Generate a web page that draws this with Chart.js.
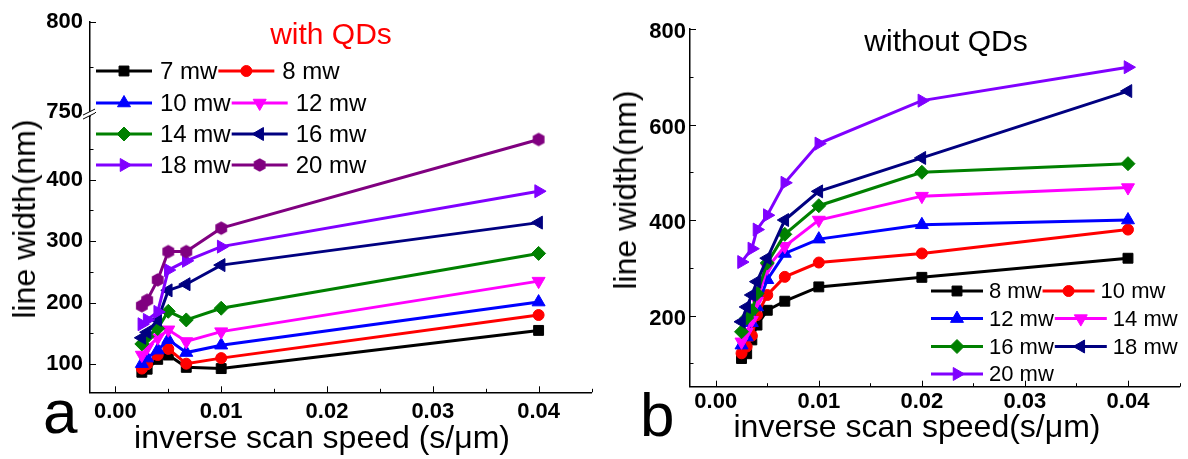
<!DOCTYPE html>
<html>
<head>
<meta charset="utf-8">
<script src="https://cdn.jsdelivr.net/npm/chart.js@4.4.1/dist/chart.umd.min.js"></script>
<style>
body { margin: 0; background: #fff; }
#wrap { position: relative; width: 1188px; height: 459px; overflow: hidden; font-family: "Liberation Sans", Arial, sans-serif; }
.pane { position: absolute; top: 0; }
.txt { position: absolute; line-height: 1; white-space: nowrap; color: #000; }
</style>
</head>
<body>
<div id="wrap">
  <div class="pane" style="left:0;width:600px;height:459px"><canvas id="chartA" width="600" height="459"></canvas></div>
  <div class="pane" style="left:600px;width:588px;height:459px"><canvas id="chartB" width="588" height="459"></canvas></div>
</div>
<script>
// Panel a: with QDs (line width in nm vs inverse scan speed in s/um)
const xA = [0.0025, 0.003, 0.004, 0.005, 0.0067, 0.01, 0.04];
const namesA = ['7 mw', '8 mw', '10 mw', '12 mw', '14 mw', '16 mw', '18 mw', '20 mw'];
const a7  = [87, 92, 108, 115, 95, 93, 155];
const a8  = [93, 100, 115, 125, 101, 110, 180];
const a10 = [101, 110, 123, 140, 119, 131, 201];
const a12 = [115, 127, 143, 156, 137, 153, 235];
const a14 = [133, 145, 158, 186, 172, 191, 280];
const a16 = [143, 152, 172, 220, 230, 261, 330];
const a18 = [165, 172, 185, 253, 268, 291, 381];
const a20 = [195, 204, 237, 283, 283, 321, 465];

// Panel b: without QDs
const xB = [0.0025, 0.003, 0.0035, 0.004, 0.005, 0.0067, 0.01, 0.02, 0.04];
const namesB = ['8 mw', '10 mw', '12 mw', '14 mw', '16 mw', '18 mw', '20 mw'];
const b8  = [110, 120, 149, 180, 211, 230, 260, 280, 320];
const b10 = [121, 135, 158, 201, 243, 281, 311, 330, 380];
const b12 = [138, 155, 185, 218, 275, 330, 360, 390, 400];
const b14 = [145, 165, 190, 230, 300, 345, 400, 450, 468];
const b16 = [166, 195, 210, 246, 310, 370, 430, 500, 518];
const b18 = [187, 218, 243, 271, 320, 400, 460, 530, 670];
const b20 = [312, null, 340, 380, 410, 478, 560, 650, 720];

// Tick values and labels
const xTicks = [0, 0.005, 0.01, 0.015, 0.02, 0.025, 0.03, 0.035, 0.04, 0.045];
const xTickLabels = ['0.00', '', '0.01', '', '0.02', '', '0.03', '', '0.04', ''];
const yTicksLowA = [100, 150, 200, 250, 300, 350, 400, 450];
const yTickLabelsLowA = ['100', '', '200', '', '300', '', '400', ''];
const yTicksHighA = [750, 775, 800];
const yTickLabelsHighA = ['750', '', '800'];
const yTicksB = [100, 200, 300, 400, 500, 600, 700, 800];
const yTickLabelsB = ['', '200', '', '400', '', '600', '', '800'];

const FONT = '"Liberation Sans", Arial, sans-serif';

// hexagon marker for the 20 mw curve in panel a
function hexMarker(color, r) {
    const c = document.createElement('canvas');
    const size = Math.ceil(r * 2) + 2;
    c.width = size; c.height = size;
    const g = c.getContext('2d');
    g.fillStyle = color;
    g.beginPath();
    for (let k = 0; k < 6; k++) {
        const ang = Math.PI / 3 * k - Math.PI / 2;
        const px = size / 2 + r * Math.cos(ang), py = size / 2 + r * Math.sin(ang);
        if (k === 0) g.moveTo(px, py); else g.lineTo(px, py);
    }
    g.closePath();
    g.fill();
    return c;
}

const styles = [
    { c: '#000000', s: 'rect', r: 7 },
    { c: '#ff0000', s: 'circle', r: 5.5 },
    { c: '#0000ff', s: 'triangle', r: 7.5, rot: 0 },
    { c: '#ff00ff', s: 'triangle', r: 7.5, rot: 180 },
    { c: '#008000', s: 'rectRot', r: 7 },
    { c: '#000080', s: 'triangle', r: 7.5, rot: 270 },
    { c: '#8000ff', s: 'triangle', r: 7.5, rot: 90 },
    { c: '#800080', s: hexMarker('#800080', 6.8), r: 7 }
];

function makeSet(label, xs, ys, st, order) {
    return {
        label: label,
        data: xs.map((x, i) => ({ x: x, y: ys[i] })),
        borderColor: st.c,
        backgroundColor: st.c,
        borderWidth: 3,
        pointStyle: st.s,
        pointRotation: st.rot || 0,
        pointRadius: st.r,
        pointBorderWidth: 1,
        pointBackgroundColor: st.c,
        pointBorderColor: st.c,
        tension: 0,
        spanGaps: true,
        clip: false,
        order: order,
        yAxisID: 'y'
    };
}

const seriesA = [a7, a8, a10, a12, a14, a16, a18, a20];
const setsA = seriesA.map((ys, i) => makeSet(namesA[i], xA, ys, styles[i], seriesA.length - i));
const seriesB = [b8, b10, b12, b14, b16, b18, b20];
const setsB = seriesB.map((ys, i) => makeSet(namesB[i], xB, ys, styles[i], seriesB.length - i));

function fixedTicks(vals) {
    return function (scale) { scale.ticks = vals.map(v => ({ value: v })); };
}

function tickFont() { return { family: FONT, size: 22, weight: 'bold' }; }

// inward tick marks, long for labelled ticks, short for minor ones
const inTicks = {
    id: 'inTicks',
    afterDraw(chart) {
        const ctx = chart.ctx;
        ctx.save();
        ctx.strokeStyle = '#000';
        ctx.lineWidth = 1;
        Object.values(chart.scales).forEach(scale => {
            scale.ticks.forEach(t => {
                const len = t.label ? 6 : 3.5;
                const p = Math.round(scale.getPixelForValue(t.value)) + 0.5;
                ctx.beginPath();
                if (scale.isHorizontal()) {
                    ctx.moveTo(p, scale.top);
                    ctx.lineTo(p, scale.top - len);
                } else {
                    ctx.moveTo(scale.right, p);
                    ctx.lineTo(scale.right + len, p);
                }
                ctx.stroke();
            });
        });
        ctx.restore();
    }
};

// legend drawn inside the plot, two entries per row
function boxLegend(cfg) {
    return {
        id: 'boxLegend',
        afterDraw(chart) {
            const ctx = chart.ctx;
            const sets = chart.data.datasets;
            ctx.save();
            ctx.font = cfg.size + 'px ' + FONT;
            ctx.textBaseline = 'middle';
            for (let i = 0; i < sets.length; i++) {
                const row = Math.floor(i / 2);
                const y = cfg.rows[row];
                let x = cfg.x0;
                if (i % 2 === 1) {
                    x = cfg.x0 + cfg.len + cfg.gap + ctx.measureText(sets[i - 1].label).width + 1;
                }
                const ds = sets[i];
                ctx.strokeStyle = ds.borderColor;
                ctx.fillStyle = ds.borderColor;
                ctx.lineWidth = 3;
                ctx.beginPath();
                ctx.moveTo(x, y);
                ctx.lineTo(x + cfg.len, y);
                ctx.stroke();
                ctx.lineWidth = 1;
                Chart.helpers.drawPoint(ctx, {
                    pointStyle: ds.pointStyle, rotation: ds.pointRotation,
                    radius: ds.pointRadius, borderWidth: 1
                }, x + cfg.len / 2, y);
                ctx.fillStyle = '#000';
                ctx.fillText(ds.label, x + cfg.len + cfg.gap, y + 1);
            }
            ctx.restore();
        }
    };
}

// axis break mark on panel a
const axisBreak = {
    id: 'axisBreak',
    afterDraw(chart) {
        const ctx = chart.ctx;
        const xa = chart.scales.y.right;
        const yb = chart.scales.y.top - 2;
        ctx.save();
        ctx.fillStyle = '#fff';
        ctx.beginPath();
        ctx.moveTo(xa - 7, yb + 5);
        ctx.lineTo(xa + 5, yb - 1);
        ctx.lineTo(xa + 5, yb - 5);
        ctx.lineTo(xa - 7, yb + 1);
        ctx.closePath();
        ctx.fill();
        ctx.strokeStyle = '#000';
        ctx.lineWidth = 1;
        ctx.beginPath();
        ctx.moveTo(xa - 7, yb + 5); ctx.lineTo(xa + 5, yb - 1);
        ctx.moveTo(xa - 7, yb + 1); ctx.lineTo(xa + 5, yb - 5);
        ctx.stroke();
        ctx.restore();
    }
};

function xScale(pad, h, min, max) {
    return {
        type: 'linear', position: 'bottom', min: min, max: max,
        afterBuildTicks: fixedTicks(xTicks),
        afterFit: s => { s.height = h; },
        grid: { display: false, drawTicks: false },
        border: { display: true, color: '#000', width: 1.5 },
        ticks: { autoSkip: false, maxRotation: 0, padding: pad, color: '#000', font: tickFont(),
                 callback: (v, i) => xTickLabels[i] }
    };
}

function yScale(vals, labels, min, max, pad, extra) {
    return Object.assign({
        type: 'linear', position: 'left', min: min, max: max,
        afterBuildTicks: fixedTicks(vals),
        afterFit: s => { s.width = 90; },
        grid: { display: false, drawTicks: false },
        border: { display: true, color: '#000', width: 1.5 },
        ticks: { autoSkip: false, padding: pad, color: '#000', font: tickFont(),
                 callback: (v, i) => labels[i] }
    }, extra || {});
}

new Chart(document.getElementById('chartA'), {
    type: 'line',
    data: { datasets: setsA },
    options: {
        responsive: false, animation: false, devicePixelRatio: 1, events: [],
        layout: { padding: { left: 0, right: 8, top: 22, bottom: 0 } },
        plugins: { legend: { display: false }, tooltip: { enabled: false } },
        scales: {
            x: xScale(6, 66.7, -0.0024, 0.045),
            y: yScale(yTicksLowA, yTickLabelsLowA, 54.5, 503, 7, { stack: 'brk', stackWeight: 276 }),
            y2: yScale(yTicksHighA, yTickLabelsHighA, 747.6, 800, 7, { stack: 'brk', stackWeight: 94 })
        }
    },
    plugins: [inTicks, axisBreak, boxLegend({ x0: 96, rows: [71, 103, 134, 165], len: 56, gap: 8, size: 24 })]
});

new Chart(document.getElementById('chartB'), {
    type: 'line',
    data: { datasets: setsB },
    options: {
        responsive: false, animation: false, devicePixelRatio: 1, events: [],
        layout: { padding: { left: 0, right: 7, top: 29, bottom: 0 } },
        plugins: { legend: { display: false }, tooltip: { enabled: false } },
        scales: {
            x: xScale(2, 72.3, -0.0025, 0.045),
            y: yScale(yTicksB, yTickLabelsB, 51, 800, 4, { ticks: { autoSkip: false, padding: 4, labelOffset: 3,
                color: '#000', font: tickFont(), callback: (v, i) => yTickLabelsB[i] } })
        }
    },
    plugins: [inTicks, boxLegend({ x0: 331, rows: [291, 318.6, 346.5, 374], len: 52, gap: 6, size: 22 })]
});

// text placed on the page: titles, axis names, panel letters
const wrap = document.getElementById('wrap');
function put(text, x, baseline, size, opt) {
    opt = opt || {};
    const d = document.createElement('div');
    d.className = 'txt';
    d.textContent = text;
    d.style.fontSize = size + 'px';
    d.style.left = x + 'px';
    d.style.top = (baseline - 0.8465 * size) + 'px';
    if (opt.color) d.style.color = opt.color;
    if (opt.center) d.style.transform = 'translateX(-50%)';
    wrap.appendChild(d);
    return d;
}
function putV(text, cx, cy, size) {
    const d = document.createElement('div');
    d.className = 'txt';
    d.textContent = text;
    d.style.fontSize = size + 'px';
    d.style.left = cx + 'px';
    d.style.top = cy + 'px';
    d.style.transform = 'translate(-50%, -50%) rotate(-90deg)';
    wrap.appendChild(d);
}

put('with QDs', 331, 44, 30, { color: '#ff0000', center: true });
put('without QDs', 946, 51, 30, { center: true });
putV('line width(nm)', 23.5, 219, 32);
putV('line width(nm)', 624.5, 190, 32);
put('inverse scan speed (s/\u03bcm)', 322, 448, 32, { center: true });
put('inverse scan speed(s/\u03bcm)', 917, 437, 32, { center: true });
put('a', 43, 433, 62);
put('b', 640, 436, 62);
</script>
</body>
</html>
